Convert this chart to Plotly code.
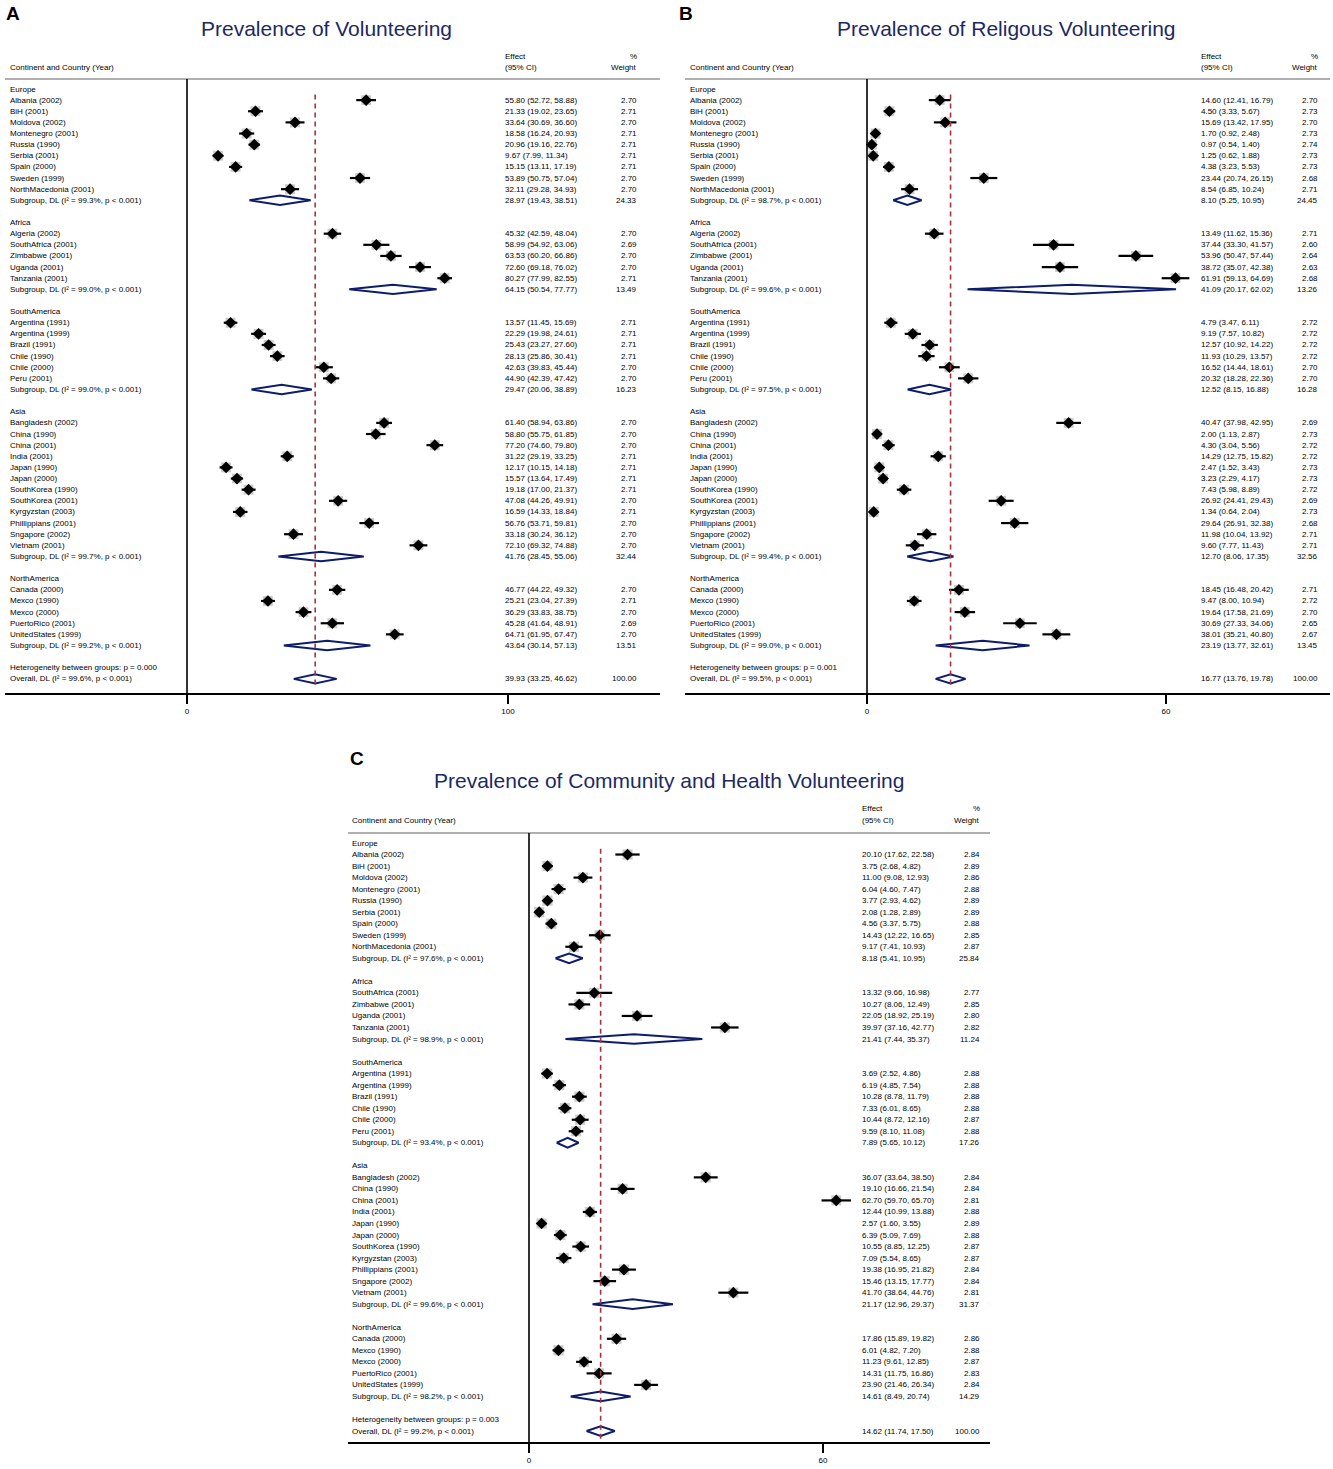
import plotly.graph_objects as go

W, H = 1333, 1469
FONT = "Liberation Sans, Arial, sans-serif"

# ---------------- DATA ----------------
GROUP_NAMES = ["Europe", "Africa", "SouthAmerica", "Asia", "NorthAmerica"]

EUROPE_STUDIES = ["Albania (2002)", "BiH (2001)", "Moldova (2002)", "Montenegro (2001)", "Russia (1990)",
                  "Serbia (2001)", "Spain (2000)", "Sweden (1999)", "NorthMacedonia (2001)"]
AFRICA_STUDIES_AB = ["Algeria (2002)", "SouthAfrica (2001)", "Zimbabwe (2001)", "Uganda (2001)", "Tanzania (2001)"]
AFRICA_STUDIES_C = ["SouthAfrica (2001)", "Zimbabwe (2001)", "Uganda (2001)", "Tanzania (2001)"]
SOUTHAMERICA_STUDIES = ["Argentina (1991)", "Argentina (1999)", "Brazil (1991)", "Chile (1990)", "Chile (2000)", "Peru (2001)"]
ASIA_STUDIES_AB = ["Bangladesh (2002)", "China (1990)", "China (2001)", "India (2001)", "Japan (1990)", "Japan (2000)",
                   "SouthKorea (1990)", "SouthKorea (2001)", "Kyrgyzstan (2003)", "Phillippians (2001)",
                   "Sngapore (2002)", "Vietnam (2001)"]
ASIA_STUDIES_C = ["Bangladesh (2002)", "China (1990)", "China (2001)", "India (2001)", "Japan (1990)", "Japan (2000)",
                  "SouthKorea (1990)", "Kyrgyzstan (2003)", "Phillippians (2001)", "Sngapore (2002)", "Vietnam (2001)"]
NORTHAMERICA_STUDIES = ["Canada (2000)", "Mexco (1990)", "Mexco (2000)", "PuertoRico (2001)", "UnitedStates (1999)"]

# Panel A: Prevalence of Volunteering
A_EST = [55.80, 21.33, 33.64, 18.58, 20.96, 9.67, 15.15, 53.89, 32.11,
         45.32, 58.99, 63.53, 72.60, 80.27,
         13.57, 22.29, 25.43, 28.13, 42.63, 44.90,
         61.40, 58.80, 77.20, 31.22, 12.17, 15.57, 19.18, 47.08, 16.59, 56.76, 33.18, 72.10,
         46.77, 25.21, 36.29, 45.28, 64.71]
A_LO = [52.72, 19.02, 30.69, 16.24, 19.16, 7.99, 13.11, 50.75, 29.28,
        42.59, 54.92, 60.20, 69.18, 77.99,
        11.45, 19.98, 23.27, 25.86, 39.83, 42.39,
        58.94, 55.75, 74.60, 29.19, 10.15, 13.64, 17.00, 44.26, 14.33, 53.71, 30.24, 69.32,
        44.22, 23.04, 33.83, 41.64, 61.95]
A_HI = [58.88, 23.65, 36.60, 20.93, 22.76, 11.34, 17.19, 57.04, 34.93,
        48.04, 63.06, 66.86, 76.02, 82.55,
        15.69, 24.61, 27.60, 30.41, 45.44, 47.42,
        63.86, 61.85, 79.80, 33.25, 14.18, 17.49, 21.37, 49.91, 18.84, 59.81, 36.12, 74.88,
        49.32, 27.39, 38.75, 48.91, 67.47]
A_WT = [2.70, 2.71, 2.70, 2.71, 2.71, 2.71, 2.71, 2.70, 2.70,
        2.70, 2.69, 2.70, 2.70, 2.71,
        2.71, 2.71, 2.71, 2.71, 2.70, 2.70,
        2.70, 2.70, 2.70, 2.71, 2.71, 2.71, 2.71, 2.70, 2.71, 2.70, 2.70, 2.70,
        2.70, 2.71, 2.70, 2.69, 2.70]
A_SUB_EST = [28.97, 64.15, 29.47, 41.76, 43.64]
A_SUB_LO = [19.43, 50.54, 20.06, 28.45, 30.14]
A_SUB_HI = [38.51, 77.77, 38.89, 55.06, 57.13]
A_SUB_WT = [24.33, 13.49, 16.23, 32.44, 13.51]
A_SUB_I2 = ["99.3", "99.0", "99.0", "99.7", "99.2"]
A_OVERALL = [39.93, 33.25, 46.62]
A_OVERALL_I2 = "99.6"
A_HET_P = "0.000"

# Panel B: Prevalence of Religous Volunteering
B_EST = [14.60, 4.50, 15.69, 1.70, 0.97, 1.25, 4.38, 23.44, 8.54,
         13.49, 37.44, 53.96, 38.72, 61.91,
         4.79, 9.19, 12.57, 11.93, 16.52, 20.32,
         40.47, 2.00, 4.30, 14.29, 2.47, 3.23, 7.43, 26.92, 1.34, 29.64, 11.98, 9.60,
         18.45, 9.47, 19.64, 30.69, 38.01]
B_LO = [12.41, 3.33, 13.42, 0.92, 0.54, 0.62, 3.23, 20.74, 6.85,
        11.62, 33.30, 50.47, 35.07, 59.13,
        3.47, 7.57, 10.92, 10.29, 14.44, 18.28,
        37.98, 1.13, 3.04, 12.75, 1.52, 2.29, 5.98, 24.41, 0.64, 26.91, 10.04, 7.77,
        16.48, 8.00, 17.58, 27.33, 35.21]
B_HI = [16.79, 5.67, 17.95, 2.48, 1.40, 1.88, 5.53, 26.15, 10.24,
        15.36, 41.57, 57.44, 42.38, 64.69,
        6.11, 10.82, 14.22, 13.57, 18.61, 22.36,
        42.95, 2.87, 5.56, 15.82, 3.43, 4.17, 8.89, 29.43, 2.04, 32.38, 13.92, 11.43,
        20.42, 10.94, 21.69, 34.06, 40.80]
B_WT = [2.70, 2.73, 2.70, 2.73, 2.74, 2.73, 2.73, 2.68, 2.71,
        2.71, 2.60, 2.64, 2.63, 2.68,
        2.72, 2.72, 2.72, 2.72, 2.70, 2.70,
        2.69, 2.73, 2.72, 2.72, 2.73, 2.73, 2.72, 2.69, 2.73, 2.68, 2.71, 2.71,
        2.71, 2.72, 2.70, 2.65, 2.67]
B_SUB_EST = [8.10, 41.09, 12.52, 12.70, 23.19]
B_SUB_LO = [5.25, 20.17, 8.15, 8.06, 13.77]
B_SUB_HI = [10.95, 62.02, 16.88, 17.35, 32.61]
B_SUB_WT = [24.45, 13.26, 16.28, 32.56, 13.45]
B_SUB_I2 = ["98.7", "99.6", "97.5", "99.4", "99.0"]
B_OVERALL = [16.77, 13.76, 19.78]
B_OVERALL_I2 = "99.5"
B_HET_P = "0.001"

# Panel C: Prevalence of Community and Health Volunteering
C_EST = [20.10, 3.75, 11.00, 6.04, 3.77, 2.08, 4.56, 14.43, 9.17,
         13.32, 10.27, 22.05, 39.97,
         3.69, 6.19, 10.28, 7.33, 10.44, 9.59,
         36.07, 19.10, 62.70, 12.44, 2.57, 6.39, 10.55, 7.09, 19.38, 15.46, 41.70,
         17.86, 6.01, 11.23, 14.31, 23.90]
C_LO = [17.62, 2.68, 9.08, 4.60, 2.93, 1.28, 3.37, 12.22, 7.41,
        9.66, 8.06, 18.92, 37.16,
        2.52, 4.85, 8.78, 6.01, 8.72, 8.10,
        33.64, 16.66, 59.70, 10.99, 1.60, 5.09, 8.85, 5.54, 16.95, 13.15, 38.64,
        15.89, 4.82, 9.61, 11.75, 21.46]
C_HI = [22.58, 4.82, 12.93, 7.47, 4.62, 2.89, 5.75, 16.65, 10.93,
        16.98, 12.49, 25.19, 42.77,
        4.86, 7.54, 11.79, 8.65, 12.16, 11.08,
        38.50, 21.54, 65.70, 13.88, 3.55, 7.69, 12.25, 8.65, 21.82, 17.77, 44.76,
        19.82, 7.20, 12.85, 16.86, 26.34]
C_WT = [2.84, 2.89, 2.86, 2.88, 2.89, 2.89, 2.88, 2.85, 2.87,
        2.77, 2.85, 2.80, 2.82,
        2.88, 2.88, 2.88, 2.88, 2.87, 2.88,
        2.84, 2.84, 2.81, 2.88, 2.89, 2.88, 2.87, 2.87, 2.84, 2.84, 2.81,
        2.86, 2.88, 2.87, 2.83, 2.84]
C_SUB_EST = [8.18, 21.41, 7.89, 21.17, 14.61]
C_SUB_LO = [5.41, 7.44, 5.65, 12.96, 8.49]
C_SUB_HI = [10.95, 35.37, 10.12, 29.37, 20.74]
C_SUB_WT = [25.84, 11.24, 17.26, 31.37, 14.29]
C_SUB_I2 = ["97.6", "98.9", "93.4", "99.6", "98.2"]
C_OVERALL = [14.62, 11.74, 17.50]
C_OVERALL_I2 = "99.2"
C_HET_P = "0.003"

TITLES = ["Prevalence of Volunteering", "Prevalence of Religous Volunteering",
          "Prevalence of Community and Health Volunteering"]
LETTERS = ["A", "B", "C"]
TICKS = [[0, 100], [0, 60], [0, 60]]

# ---------------- LAYOUT GEOMETRY (pixels) ----------------
GEOM = [
    dict(left=5, right=660, zero=187, ppu=3.21, top=79, bottom=693, row0=89, step=11.13,
         lab=10, eff=505, wgt=637, hdr1=56, hdr2=67, tx=326, ty=28, lx=13, ly=14),
    dict(left=685, right=1330, zero=867, ppu=4.983, top=79, bottom=693, row0=89, step=11.13,
         lab=690, eff=1201, wgt=1318, hdr1=56, hdr2=67, tx=1006, ty=28, lx=686, ly=14),
    dict(left=348, right=990, zero=529, ppu=4.9, top=833, bottom=1442, row0=843, step=11.53,
         lab=352, eff=862, wgt=980, hdr1=808, hdr2=820, tx=669, ty=780, lx=357, ly=758),
]

NAVY = "#0d1d6b"
TITLE_NAVY = "#1c2a64"
RED = "#a3343d"
GREY_SQ = "#b5b5b5"


def pxx(p):
    return p / W


def pxy(p):
    return 1 - p / H


fig = go.Figure()
annotations = []
shapes = []


def txt(x, y, yref, text, anchor, size=8, color="black", bold=False):
    return dict(x=x, y=y, xref="paper", yref=yref, text=f"<b>{text}</b>" if bold else text,
                showarrow=False, xanchor=anchor, yanchor="middle", borderpad=0, borderwidth=0,
                font=dict(size=size, family=FONT, color=color))


def add_panel(n, g, groups, est, lo, hi, wt, s_est, s_lo, s_hi, s_wt, s_i2, ov, ov_i2, het_p):
    xa = "x" if n == 1 else f"x{n}"
    ya = "y" if n == 1 else f"y{n}"
    rows = []
    pr, pk, srows = [], [], []
    r, k = 0, 0
    for gi, (gname, studies) in enumerate(zip(GROUP_NAMES, groups)):
        rows.append((r, gname, "", ""))
        r += 1
        for s in studies:
            rows.append((r, s, f"{est[k]:.2f} ({lo[k]:.2f}, {hi[k]:.2f})", f"{wt[k]:.2f}"))
            pr.append(r)
            pk.append(k)
            k += 1
            r += 1
        rows.append((r, f"Subgroup, DL (I\u00b2 = {s_i2[gi]}%, p < 0.001)",
                     f"{s_est[gi]:.2f} ({s_lo[gi]:.2f}, {s_hi[gi]:.2f})", f"{s_wt[gi]:.2f}"))
        srows.append((r, s_est[gi], s_lo[gi], s_hi[gi]))
        r += 2
    rows.append((r, f"Heterogeneity between groups: p = {het_p}", "", ""))
    r += 1
    rows.append((r, f"Overall, DL (I\u00b2 = {ov_i2}%, p < 0.001)",
                 f"{ov[0]:.2f} ({ov[1]:.2f}, {ov[2]:.2f})", "100.00"))
    srows.append((r, ov[0], ov[1], ov[2]))
    ov_row = r

    # grey weight squares
    fig.add_trace(go.Scatter(x=[est[i] for i in pk], y=pr, mode="markers", xaxis=xa, yaxis=ya,
                             marker=dict(symbol="square", size=[6.0 * wt[i] ** 0.5 for i in pk],
                                         color=GREY_SQ, line=dict(width=0)),
                             hoverinfo="skip", showlegend=False))
    # CI lines
    cx, cy = [], []
    for rr, i in zip(pr, pk):
        cx += [lo[i], hi[i], None]
        cy += [rr, rr, None]
    fig.add_trace(go.Scatter(x=cx, y=cy, mode="lines", xaxis=xa, yaxis=ya,
                             line=dict(color="black", width=2.2), hoverinfo="skip", showlegend=False))
    # point estimates
    fig.add_trace(go.Scatter(x=[est[i] for i in pk], y=pr, mode="markers", xaxis=xa, yaxis=ya,
                             marker=dict(symbol="diamond", size=9, color="black", line=dict(width=0)),
                             hoverinfo="skip", showlegend=False))
    # pooled diamonds
    dx, dy = [], []
    h = 0.42
    for rr, e, l, u in srows:
        dx += [l, e, u, e, l, None]
        dy += [rr, rr - h, rr, rr + h, rr, None]
    fig.add_trace(go.Scatter(x=dx, y=dy, mode="lines", xaxis=xa, yaxis=ya,
                             line=dict(color=NAVY, width=2), hoverinfo="skip", showlegend=False))

    # axes
    xr = [(g["left"] - g["zero"]) / g["ppu"], (g["right"] - g["zero"]) / g["ppu"]]
    yr = [(g["bottom"] - g["row0"]) / g["step"], (g["top"] - g["row0"]) / g["step"]]
    xkey = "xaxis" if n == 1 else f"xaxis{n}"
    ykey = "yaxis" if n == 1 else f"yaxis{n}"
    fig.update_layout(**{
        xkey: dict(domain=[pxx(g["left"]), pxx(g["right"])], range=xr, anchor=ya,
                   tickvals=TICKS[n - 1], ticktext=[str(t) for t in TICKS[n - 1]],
                   ticks="outside", ticklen=9, tickwidth=1.6, tickcolor="black",
                   showline=True, linecolor="black", linewidth=2, showgrid=False, zeroline=False,
                   tickfont=dict(size=8, family=FONT, color="black"), fixedrange=True),
        ykey: dict(domain=[pxy(g["bottom"]), pxy(g["top"])], range=yr, anchor=xa,
                   visible=False, showgrid=False, zeroline=False, fixedrange=True),
    })

    # header line, zero line, overall reference line
    shapes.append(dict(type="line", xref="paper", yref="paper", x0=pxx(g["left"]), x1=pxx(g["right"]),
                       y0=pxy(g["top"]), y1=pxy(g["top"]), line=dict(color="#b0b0b0", width=2)))
    shapes.append(dict(type="line", xref=xa, yref=f"{ya} domain", x0=0, x1=0, y0=0, y1=1,
                       line=dict(color="black", width=1.6)))
    shapes.append(dict(type="line", xref=xa, yref=ya, x0=ov[0], x1=ov[0], y0=0.5, y1=ov_row + 0.8,
                       line=dict(color=RED, width=1.6, dash="5px,4px")))

    # row texts
    for rr, lab, eff, wgt in rows:
        annotations.append(txt(pxx(g["lab"]), rr, ya, lab, "left"))
        if eff:
            annotations.append(txt(pxx(g["eff"]), rr, ya, eff, "left"))
        if wgt:
            annotations.append(txt(pxx(g["wgt"]), rr, ya, wgt, "right"))
    # headers
    hdrs = [(g["lab"], g["hdr2"], "Continent and Country (Year)", "left"),
            (g["eff"], g["hdr1"], "Effect", "left"),
            (g["eff"], g["hdr2"], "(95% CI)", "left"),
            (g["wgt"], g["hdr1"], "%", "right"),
            (g["wgt"], g["hdr2"], "Weight", "right")]
    for hx, hy, t, anc in hdrs:
        annotations.append(txt(pxx(hx), pxy(hy), "paper", t, anc))
    # title and letter
    annotations.append(txt(pxx(g["tx"]), pxy(g["ty"]), "paper", TITLES[n - 1], "center",
                           size=21, color=TITLE_NAVY))
    annotations.append(txt(pxx(g["lx"]), pxy(g["ly"]), "paper", LETTERS[n - 1], "center",
                           size=19, bold=True))


add_panel(1, GEOM[0], [EUROPE_STUDIES, AFRICA_STUDIES_AB, SOUTHAMERICA_STUDIES, ASIA_STUDIES_AB, NORTHAMERICA_STUDIES],
          A_EST, A_LO, A_HI, A_WT, A_SUB_EST, A_SUB_LO, A_SUB_HI, A_SUB_WT, A_SUB_I2, A_OVERALL, A_OVERALL_I2, A_HET_P)
add_panel(2, GEOM[1], [EUROPE_STUDIES, AFRICA_STUDIES_AB, SOUTHAMERICA_STUDIES, ASIA_STUDIES_AB, NORTHAMERICA_STUDIES],
          B_EST, B_LO, B_HI, B_WT, B_SUB_EST, B_SUB_LO, B_SUB_HI, B_SUB_WT, B_SUB_I2, B_OVERALL, B_OVERALL_I2, B_HET_P)
add_panel(3, GEOM[2], [EUROPE_STUDIES, AFRICA_STUDIES_C, SOUTHAMERICA_STUDIES, ASIA_STUDIES_C, NORTHAMERICA_STUDIES],
          C_EST, C_LO, C_HI, C_WT, C_SUB_EST, C_SUB_LO, C_SUB_HI, C_SUB_WT, C_SUB_I2, C_OVERALL, C_OVERALL_I2, C_HET_P)

fig.update_layout(width=W, height=H, margin=dict(l=0, r=0, t=0, b=0), autosize=False,
                  paper_bgcolor="white", plot_bgcolor="white", showlegend=False,
                  annotations=annotations, shapes=shapes, font=dict(family=FONT))

fig.write_html("out.html", config={"displayModeBar": False},
               post_script="document.body.style.margin='0';document.body.style.overflow='hidden';")
